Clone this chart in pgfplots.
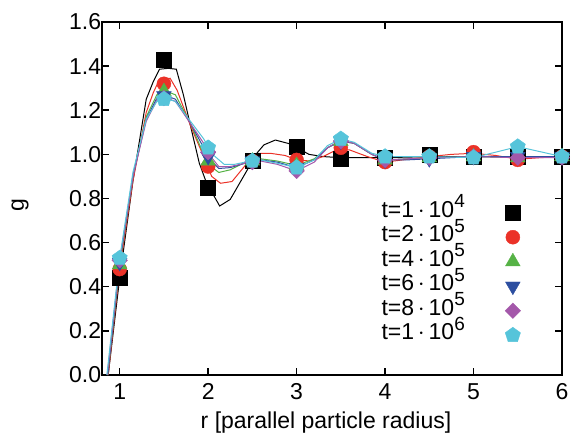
\documentclass[border=0pt]{standalone}
\usepackage{pgfplots}
\pgfplotsset{compat=1.18}
\usepackage{fontspec}
\setmainfont{Liberation Sans}
\definecolor{cred}{RGB}{235,50,40}
\definecolor{cgreen}{RGB}{86,178,70}
\definecolor{cblue}{RGB}{44,78,160}
\definecolor{cpurple}{RGB}{164,88,170}
\definecolor{ccyan}{RGB}{86,196,218}
\newcommand{\tlab}[2]{t=#1\,$\cdot$\,10\raisebox{0.42em}{\fontsize{19bp}{19bp}\selectfont #2}}
\begin{document}
\fontsize{23bp}{27bp}\selectfont
\begin{tikzpicture}
\useasboundingbox (-102bp,-71bp) rectangle (470bp,375bp);
\begin{axis}[
  scale only axis,
  width=460bp, height=353bp,
  xmin=0.8, xmax=6, ymin=0, ymax=1.6,
  xtick={1,2,3,4,5,6},
  ytick={0,0.2,0.4,0.6,0.8,1.0,1.2,1.4,1.6},
  /pgf/number format/assume math mode=true,
  yticklabel style={xshift=7bp, /pgf/number format/fixed, /pgf/number format/fixed zerofill, /pgf/number format/precision=1},
  xticklabel style={yshift=-1bp},
  tick align=inside,
  major tick length=7bp,
  axis line style={line width=1.8bp},
  every tick/.style={black, line width=1.5bp},
  xlabel={r [parallel particle radius]},
  ylabel={g},
  xlabel style={xshift=-6bp, yshift=4bp},
  ylabel style={at={(axis description cs:-0.178,0.48)}, anchor=center},
  legend cell align=right,
  legend plot pos=right,
  legend style={at={(0.911,0.495)}, anchor=north east, draw=none, fill=none,
    inner sep=0pt,
    nodes={inner sep=0pt, text height=17bp, text depth=7.5bp}},
  legend image code/.code={\path[draw=none,fill=none] (0bp,-8bp) rectangle (56bp,8bp); \draw[mark repeat=2,mark phase=2,#1] plot coordinates {(40bp,0bp) (48bp,0bp) (56bp,0bp)};},
]
% ---------- lines ----------
\addplot[forget plot, black, line width=1bp] coordinates {
(0.87,0) (1.0,0.44) (1.15,0.88) (1.3,1.25) (1.38,1.33) (1.45,1.386) (1.55,1.39) (1.64,1.386) (1.72,1.27) (1.80,1.13) (1.9,0.96) (2.0,0.85) (2.06,0.816) (2.13,0.766) (2.25,0.796) (2.42,0.914) (2.55,1.005) (2.63,1.043) (2.76,1.065) (2.93,1.047) (3.14,1.0) (3.3,0.99) (3.5,0.985) (4,0.985) (4.5,0.99) (5,0.99) (5.5,0.99) (6,0.99)};
\addplot[forget plot, cred, line width=1bp] coordinates {
(0.87,0) (1.0,0.48) (1.15,0.88) (1.3,1.19) (1.38,1.28) (1.45,1.34) (1.57,1.345) (1.65,1.29) (1.8,1.13) (1.95,0.99) (2.04,0.90) (2.14,0.869) (2.27,0.877) (2.44,0.96) (2.59,1.005) (2.70,1.005) (2.87,0.995) (3.0,0.975) (3.15,0.97) (3.3,0.99) (3.45,1.02) (3.6,1.02) (3.8,0.99) (4.0,0.965) (4.2,0.975) (4.5,0.99) (4.75,1.0) (5.0,1.005) (5.25,0.995) (5.5,0.978) (5.75,0.985) (6,0.99)};
\addplot[forget plot, cgreen, line width=1bp] coordinates {
(0.865,0) (1.0,0.50) (1.15,0.9) (1.3,1.17) (1.42,1.27) (1.5,1.29) (1.63,1.27) (1.8,1.14) (1.95,1.0) (2.05,0.94) (2.12,0.918) (2.25,0.93) (2.42,0.965) (2.59,0.98) (2.78,0.97) (3.0,0.95) (3.2,0.98) (3.35,1.03) (3.5,1.06) (3.65,1.05) (3.85,1.0) (4.0,0.975) (4.25,0.98) (4.5,0.985) (5,0.99) (5.5,0.985) (6,0.99)};
\addplot[forget plot, cblue, line width=1bp] coordinates {
(0.865,0) (1,0.51) (1.15,0.9) (1.3,1.16) (1.42,1.255) (1.5,1.27) (1.63,1.25) (1.8,1.14) (1.95,1.03) (2.05,0.965) (2.12,0.936) (2.25,0.94) (2.42,0.96) (2.59,0.975) (2.78,0.965) (3.0,0.94) (3.2,0.975) (3.35,1.03) (3.5,1.06) (3.65,1.05) (3.85,1.0) (4.0,0.975) (4.25,0.975) (4.5,0.98) (5,0.99) (5.5,0.99) (6,0.99)};
\addplot[forget plot, cpurple, line width=1bp] coordinates {
(0.86,0) (1,0.52) (1.15,0.9) (1.3,1.15) (1.42,1.245) (1.5,1.26) (1.63,1.24) (1.8,1.14) (1.95,1.05) (2.05,0.98) (2.12,0.945) (2.25,0.945) (2.42,0.96) (2.59,0.97) (2.78,0.955) (3.0,0.925) (3.2,0.965) (3.35,1.03) (3.5,1.065) (3.65,1.05) (3.85,1.0) (4.0,0.975) (4.25,0.98) (4.5,0.985) (5,0.99) (5.5,0.985) (6,0.985)};
\addplot[forget plot, ccyan, line width=1bp] coordinates {
(0.855,0) (1,0.53) (1.15,0.92) (1.3,1.16) (1.42,1.24) (1.5,1.255) (1.63,1.24) (1.8,1.15) (1.95,1.07) (2.05,1.0) (2.18,0.955) (2.3,0.955) (2.42,0.965) (2.59,0.975) (2.78,0.96) (3.0,0.94) (3.2,0.975) (3.35,1.04) (3.5,1.07) (3.65,1.055) (3.85,1.005) (4.0,0.99) (4.25,0.99) (4.5,0.99) (5,0.985) (5.5,1.035) (6,0.99)};
% ---------- markers ----------
\addplot[only marks, mark=square*, mark size=7.5bp, black, mark options={fill=black, draw=black}] coordinates {
(1,0.44) (1.5,1.43) (2,0.85) (2.5,0.97) (3,1.035) (3.5,0.98) (4,0.985) (4.5,1.0) (5,0.99) (5.5,0.99) (6,0.99)};
\addlegendentry{\tlab{1}{4}}
\addplot[only marks, mark=*, mark size=7bp, cred, mark options={fill=cred, draw=cred}] coordinates {
(1,0.48) (1.5,1.32) (2,0.945) (2.5,0.97) (3,0.975) (3.5,1.03) (4,0.965) (4.5,0.99) (5,1.01) (5.5,0.975) (6,0.99)};
\addlegendentry{\tlab{2}{5}}
\addplot[only marks, mark=triangle*, mark size=8.5bp, cgreen, mark options={fill=cgreen, draw=cgreen}] coordinates {
(1,0.50) (1.5,1.285) (2,0.97) (2.5,0.97) (3,0.95) (3.5,1.06) (4,0.975) (4.5,0.985) (5,0.99) (5.5,0.985) (6,0.99)};
\addlegendentry{\tlab{4}{5}}
\addplot[only marks, mark=triangle*, mark size=8.5bp, cblue, mark options={fill=cblue, draw=cblue, rotate=180}] coordinates {
(1,0.51) (1.5,1.265) (2,0.99) (2.5,0.97) (3,0.94) (3.5,1.06) (4,0.975) (4.5,0.98) (5,0.99) (5.5,0.99) (6,0.99)};
\addlegendentry{\tlab{6}{5}}
\addplot[only marks, mark=square*, mark size=5.5bp, cpurple, mark options={fill=cpurple, draw=cpurple, rotate=45}] coordinates {
(1,0.52) (1.5,1.255) (2,1.01) (2.5,0.965) (3,0.925) (3.5,1.06) (4,0.975) (4.5,0.985) (5,0.99) (5.5,0.985) (6,0.985)};
\addlegendentry{\tlab{8}{5}}
\addplot[only marks, mark=pentagon*, mark size=8bp, ccyan, mark options={fill=ccyan, draw=ccyan}] coordinates {
(1,0.53) (1.5,1.25) (2,1.03) (2.5,0.97) (3,0.94) (3.5,1.07) (4,0.99) (4.5,0.99) (5,0.985) (5.5,1.035) (6,0.99)};
\addlegendentry{\tlab{1}{6}}
\end{axis}
\end{tikzpicture}
\end{document}
